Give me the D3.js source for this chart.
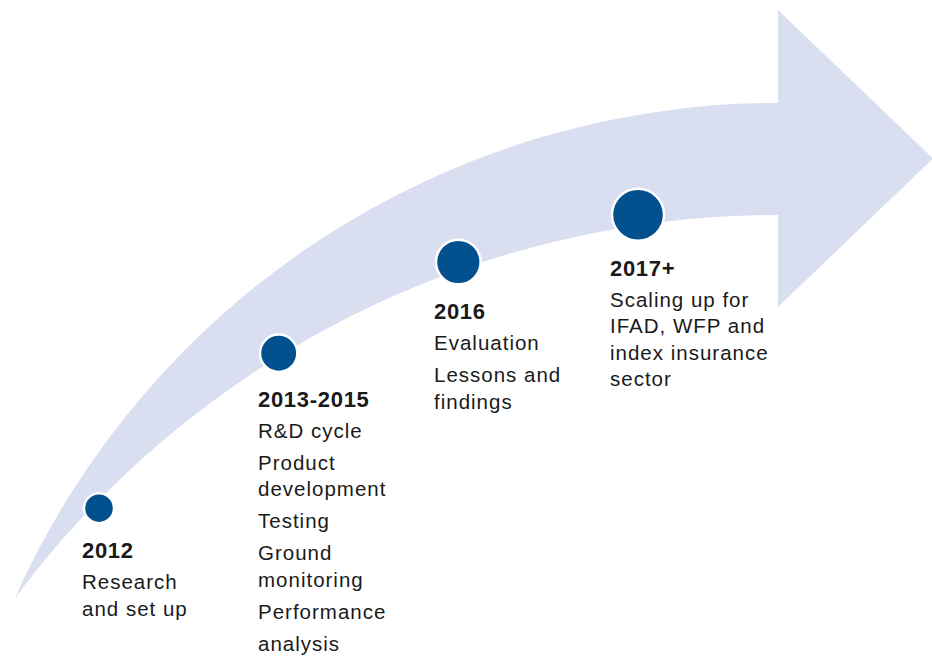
<!DOCTYPE html>
<html>
<head>
<meta charset="utf-8">
<script src="https://d3js.org/d3.v7.min.js"></script>
<style>
    body { margin: 0; background: #ffffff; }
    svg { display: block; }
    text { font-family: "Liberation Sans", Arial, Helvetica, sans-serif; fill: #1a1a1a; }
</style>
</head>
<body>
<div id="container"></div>
<script>
"use strict";

// milestones along the arrow
var years = ["2012", "2013-2015", "2016", "2017+"];

// each milestone: list of items, each item a list of wrapped lines
var details = [
    [["Research", "and set up"]],
    [["R&D cycle"], ["Product", "development"], ["Testing"], ["Ground", "monitoring"], ["Performance"], ["analysis"]],
    [["Evaluation"], ["Lessons and", "findings"]],
    [["Scaling up for", "IFAD, WFP and", "index insurance", "sector"]]
];

var width = 932;
var height = 661;

var bandColour = "#d9def0";
var dotColour = "#03508f";

// arrow geometry
var tail = { x: 15, y: 598 };
var neckX = 778;
var bandTop = 103;
var bandBottom = 215;
var headTop = 10;
var headBottom = 307;
var tipX = 933;

var svg = d3.select("#container").append("svg")
    .attr("width", width)
    .attr("height", height);

//radius of an arc that starts at the tail and ends flat at the neck
function arcRadius(endY) {
    var dx = neckX - tail.x;
    var dy = tail.y - endY;
    return (dx * dx + dy * dy) / (2 * dy);
}

var rTop = arcRadius(bandTop);
var rBottom = arcRadius(bandBottom);

var d = "M" + tail.x + "," + tail.y +
    "A" + rTop + "," + rTop + " 0 0 1 " + neckX + "," + bandTop +
    "L" + neckX + "," + headTop +
    "L" + tipX + "," + ((headTop + headBottom) / 2) +
    "L" + neckX + "," + headBottom +
    "L" + neckX + "," + bandBottom +
    "A" + rBottom + "," + rBottom + " 0 0 0 " + tail.x + "," + tail.y + "Z";

svg.append("path")
    .attr("d", d)
    .style("fill", bandColour);

//track the dots sit on (flat at the neck)
var trackRadius = 910;
var trackTop = 204;

function trackY(x) {
    var dx = neckX - x;
    return trackTop + trackRadius - Math.sqrt(trackRadius * trackRadius - dx * dx);
}

var x = d3.scalePoint().domain(years).range([99, 638]);
var r = d3.scaleLinear().domain([0, years.length - 1]).range([15, 26]);

var milestones = years.map(function (year, i) {
    return { year: year, items: details[i], cx: x(year), cy: trackY(x(year)), r: r(i) };
});

svg.selectAll("circle.dot")
    .data(milestones)
    .enter().append("circle")
    .attr("class", "dot")
    .attr("cx", function (m) { return m.cx; })
    .attr("cy", function (m) { return m.cy; })
    .attr("r", function (m) { return m.r; })
    .style("fill", dotColour)
    .style("stroke", "#ffffff")
    .style("stroke-width", 2.5);

var labels = svg.selectAll("g.label")
    .data(milestones)
    .enter().append("g")
    .attr("class", "label")
    .attr("transform", function (m) {
        return "translate(" + (m.cx - m.r - 2) + "," + (m.cy + m.r + 35) + ")";
    });

labels.append("text")
    .text(function (m) { return m.year; })
    .style("font-size", "22px")
    .style("font-weight", "bold")
    .style("letter-spacing", "0.7px");

//lay out the description lines under each year
labels.each(function (m) {
    var lines = [];
    var y = 31;
    m.items.forEach(function (item) {
        item.forEach(function (line, j) {
            if (j > 0) {
                y += 26.5;
            }
            lines.push({ text: line, y: y });
        });
        y += 32;
    });

    d3.select(this).selectAll("text.line")
        .data(lines)
        .enter().append("text")
        .attr("class", "line")
        .attr("y", function (l) { return l.y; })
        .text(function (l) { return l.text; })
        .style("font-size", "20.5px")
        .style("letter-spacing", "1px");
});
</script>
</body>
</html>
